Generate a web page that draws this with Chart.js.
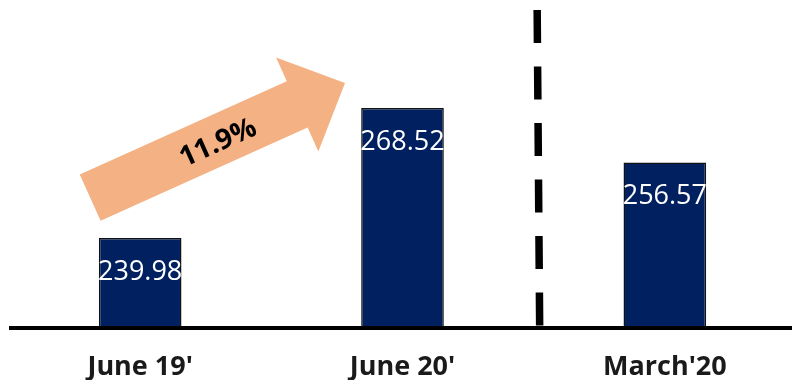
<!DOCTYPE html>
<html>
<head>
<meta charset="utf-8">
<script src="https://cdn.jsdelivr.net/npm/chart.js@4/dist/chart.umd.min.js"></script>
<style>
  html, body { margin: 0; padding: 0; background: #fff; overflow: hidden; }
  #wrap { position: relative; width: 796px; height: 380px; }
</style>
</head>
<body>
<div id="wrap"><canvas id="chart"></canvas></div>
<script>
// Period labels and the values shown on each bar
const categories = ["June 19'", "June 20'", "March'20"];
const values = [239.98, 268.52, 256.57];
// Growth between the first two periods, printed on the arrow
const growthLabel = "11.9%";
// Visible value range of the (hidden) value axis
const valueAxisRange = [220.7, 290];

const BAR_COLOR = '#002060';
const TEXT_COLOR = '#1a1a1a';
const ARROW_COLOR = '#F4B183';

// White value labels printed inside each bar, near its top
const valueLabels = {
  id: 'valueLabels',
  afterDatasetsDraw(chart) {
    const ctx = chart.ctx;
    const meta = chart.getDatasetMeta(0);
    ctx.save();
    ctx.fillStyle = '#ffffff';
    ctx.font = '27px "Open Sans"';
    ctx.textAlign = 'center';
    ctx.textBaseline = 'middle';
    meta.data.forEach((bar, i) => {
      ctx.fillText(values[i].toFixed(2), bar.x, bar.y + 34);
    });
    ctx.restore();
  }
};

// Thick black baseline under the bars
const baseline = {
  id: 'baseline',
  afterDatasetsDraw(chart) {
    const { ctx, chartArea } = chart;
    ctx.save();
    ctx.fillStyle = '#000';
    ctx.fillRect(chartArea.left, chartArea.bottom, chartArea.right - chartArea.left, 4);
    ctx.restore();
  }
};

// Dashed separator between the year-on-year pair and the latest quarter
const divider = {
  id: 'divider',
  afterDatasetsDraw(chart) {
    const { ctx, chartArea } = chart;
    const xs = chart.scales.x;
    const mid = (xs.getPixelForValue(1) + xs.getPixelForValue(2)) / 2;
    ctx.save();
    ctx.strokeStyle = '#000';
    ctx.lineWidth = 7.5;
    ctx.setLineDash([33, 23.5]);
    ctx.beginPath();
    ctx.moveTo(mid + 3.5, chartArea.top);
    ctx.lineTo(mid + 6, chartArea.bottom);
    ctx.stroke();
    ctx.restore();
  }
};

// Block arrow from the first bar towards the second, labelled with the growth
const growthArrow = {
  id: 'growthArrow',
  afterDatasetsDraw(chart) {
    const ctx = chart.ctx;
    const meta = chart.getDatasetMeta(0);
    const a = meta.data[0], b = meta.data[1];
    const tail = { x: a.x - 50, y: a.y - 40.5 };
    const tip = { x: b.x - 57.5, y: b.y - 25 };
    const dx = tip.x - tail.x, dy = tip.y - tail.y;
    const len = Math.hypot(dx, dy);
    const ang = Math.atan2(dy, dx);
    const sw = 25.4, hw = 51.5, hl = 52.4;
    ctx.save();
    ctx.translate(tail.x, tail.y);
    ctx.rotate(ang);
    ctx.fillStyle = ARROW_COLOR;
    ctx.beginPath();
    ctx.moveTo(0, -sw);
    ctx.lineTo(len - hl, -sw);
    ctx.lineTo(len - hl, -hw);
    ctx.lineTo(len, 0);
    ctx.lineTo(len - hl, hw);
    ctx.lineTo(len - hl, sw);
    ctx.lineTo(0, sw);
    ctx.closePath();
    ctx.fill();
    ctx.fillStyle = '#000';
    ctx.font = 'bold 28px "Open Sans"';
    ctx.textAlign = 'center';
    ctx.textBaseline = 'middle';
    ctx.fillText(growthLabel, 139, 3);
    ctx.restore();
  }
};

new Chart(document.getElementById('chart'), {
  type: 'bar',
  data: {
    labels: categories,
    datasets: [{
      data: values,
      backgroundColor: BAR_COLOR,
      borderColor: '#111111',
      borderWidth: 1.5,
      barPercentage: 1,
      categoryPercentage: 0.315
    }]
  },
  options: {
    responsive: true,
    maintainAspectRatio: false,
    animation: false,
    layout: { padding: { left: 9, top: 10, right: 0, bottom: 0 } },
    plugins: {
      legend: { display: false },
      tooltip: { enabled: false }
    },
    scales: {
      x: {
        grid: { display: false },
        border: { display: false },
        ticks: {
          color: TEXT_COLOR,
          padding: 17,
          font: { family: 'Open Sans', weight: 'bold', size: 27 }
        },
        afterFit(scale) { scale.height = 54; }
      },
      y: {
        display: false,
        min: valueAxisRange[0],
        max: valueAxisRange[1]
      }
    }
  },
  plugins: [growthArrow, valueLabels, baseline, divider]
});
</script>
</body>
</html>
